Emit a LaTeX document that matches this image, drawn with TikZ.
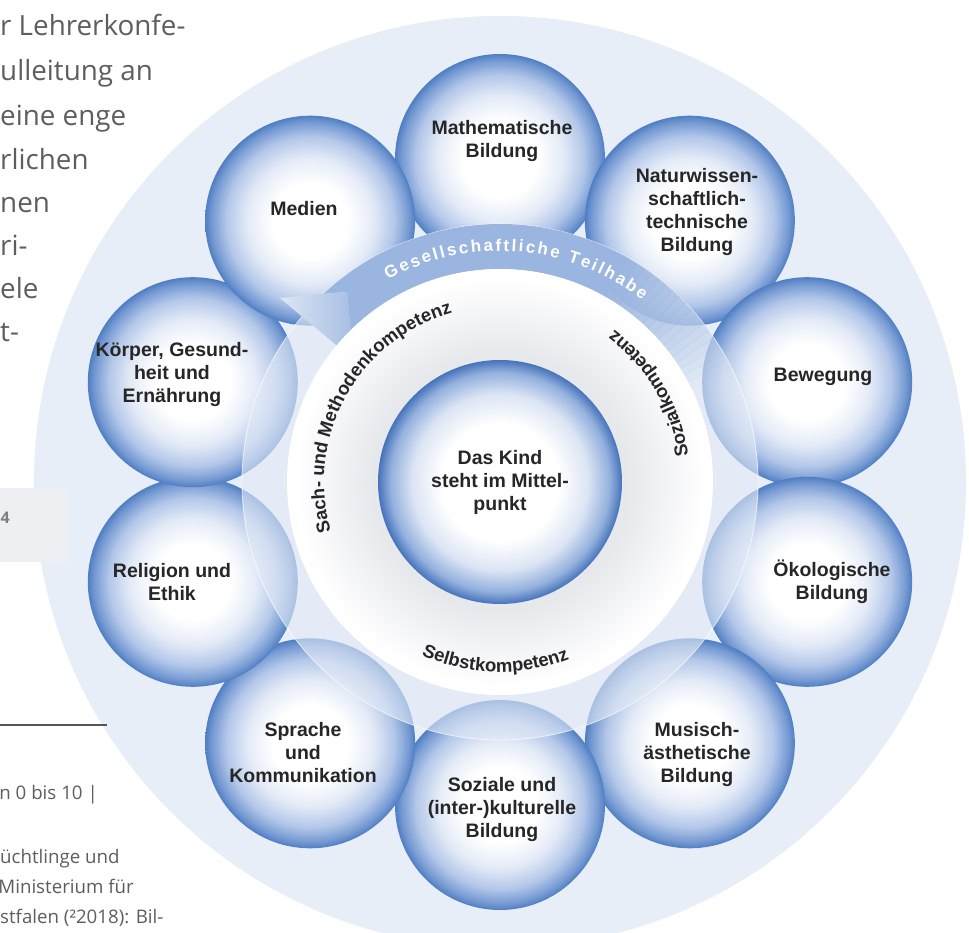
\documentclass[tikz,border=0pt]{standalone}
\usepackage{fontspec}
\setmainfont{Liberation Sans}
\newfontfamily\bodyfont{Open Sans}
\usetikzlibrary{decorations.text}
\definecolor{pale}{HTML}{E8EEF7}
\definecolor{boxc}{HTML}{EDEFF2}
\definecolor{bodyc}{HTML}{5E5E5E}
\definecolor{labelc}{HTML}{262626}
\definecolor{bubA}{HTML}{E4EBF7}
\definecolor{bubB}{HTML}{B3C7E9}
\definecolor{bubC}{HTML}{7499D2}
\definecolor{bubedge}{HTML}{4F7EC3}
\definecolor{ringc}{HTML}{E2EAF6}
\definecolor{tailc}{HTML}{9AB5DF}
\definecolor{headA}{HTML}{DCE6F5}
\definecolor{headB}{HTML}{A7BEE3}
\definecolor{wrA}{HTML}{E6E8EC}
\definecolor{wrB}{HTML}{F4F5F7}
\definecolor{inA}{HTML}{DCE5F4}
\definecolor{inB}{HTML}{93B0DD}
\definecolor{inedge}{HTML}{4673BB}
\pgfdeclareradialshading{bubble}{\pgfpoint{0bp}{0bp}}{color(0bp)=(white); color(9bp)=(white); color(15bp)=(bubA); color(20bp)=(bubB); color(23.5bp)=(bubC); color(25bp)=(bubedge); color(50bp)=(bubedge)}
\pgfdeclareradialshading{kernel}{\pgfpoint{0bp}{0bp}}{color(0bp)=(white); color(12bp)=(white); color(18bp)=(inA); color(22.5bp)=(inB); color(25bp)=(inedge); color(50bp)=(inedge)}
\pgfdeclareradialshading{wring}{\pgfpoint{0bp}{0bp}}{color(0bp)=(wrA); color(15bp)=(wrA); color(20bp)=(wrB); color(24bp)=(white); color(25bp)=(white); color(50bp)=(white)}
\newcommand\curvefont{\fontsize{18.5}{18.5}\selectfont\bfseries}
\newcommand\ringfont{\fontsize{17}{17}\selectfont\bfseries}
\tikzset{
  lbl/.style={font=\fontsize{19.5}{23}\selectfont\bfseries, text=labelc, align=center, inner sep=0pt},
  body/.style={font=\bodyfont\fontsize{27.8}{27.8}\selectfont, text=bodyc, inner sep=0pt, anchor=base west},
  smallbody/.style={font=\bodyfont\fontsize{18.7}{18.7}\selectfont, text=bodyc, inner sep=0pt}
}
\begin{document}
\begin{tikzpicture}[x=1pt,y=1pt]
\useasboundingbox (-500,-451) rectangle (469,482);
\begin{scope}
\clip (-500,-451) rectangle (469,482);
\fill[white] (-500,-451) rectangle (469,482);
% big pale disc
\fill[pale] (0,0) circle (466);
% grey box with page number
\fill[boxc] (-500,-6) rectangle (-432,-80);
\node[font=\bodyfont\fontsize{16}{16}\selectfont\bfseries, text=bodyc!80, inner sep=0pt, anchor=base east] (pg) at (-490,-42) {4};
% left body text
\node[body] (t1) at (-500,446) {r Lehrerkonfe-};
\node[body] (t2) at (-500,401) {ulleitung an};
\node[body] (t3) at (-500,356) {eine enge};
\node[body] (t4) at (-500,312) {rlichen};
\node[body] (t5) at (-500,269) {nen};
\node[body] (t6) at (-500,226) {ri-};
\node[body] (t7) at (-500,183) {ele};
\node[body] (t8) at (-500,140) {t-};
\coordinate (l1) at (-500,-243);
\coordinate (l2) at (-393,-243);
\draw[bodyc!90!black, line width=1.2pt] (l1) -- (l2);
\node[smallbody, anchor=base east] (s1) at (-402,-318) {n 0 bis 10 |};
\node[smallbody, anchor=base west] (s2) at (-500,-381) {üchtlinge und};
\node[smallbody, anchor=base east] (s3) at (-366,-411) {Ministerium für};
\node[smallbody, anchor=base west] (s4) at (-500,-441) {stfalen (²2018): Bil-};
% bubbles
\foreach \ang in {90,54,18,-18,-54,-90,-126,-162,162,126}{
  \shade[shading=bubble] (\ang:323) circle (105);
}
% translucent ring
\fill[ringc, fill opacity=0.62] (0,0) circle (258);
\draw[white, opacity=0.7, line width=0.8pt] (0,0) circle (258);
% dark tail of the arrow
\fill[tailc] (133.2:258) -- (128.8:244) -- (134.6:213) arc[start angle=134.6, end angle=60, radius=213] -- (60:258) arc[start angle=60, end angle=133.2, radius=258] -- cycle;
\foreach \a in {60,58,...,28}{
  \pgfmathsetmacro\op{(\a-26)/36}
  \fill[tailc, fill opacity=\op] (\a:213) arc[start angle=\a, end angle=\a-2.1, radius=213] -- (\a-2.1:258) arc[start angle=\a-2.1, end angle=\a, radius=258] -- cycle;
}
% arrow head
\shade[left color=headA, right color=headB] (128.8:244) -- (140.1:287) -- (140.1:191.5) -- cycle;
% white ring
\shade[shading=wring] (0,0) circle (213);
% core
\shade[shading=kernel] (0,0) circle (122);
% curved texts
\path[decorate, decoration={text along path, text align=center, text={|\curvefont\color{labelc}|Sach- und Methodenkompetenz}}] (203:176) arc[start angle=203, end angle=99, radius=176];
\path[decorate, decoration={text along path, text align=center, text={|\curvefont\color{labelc}|Sozialkompetenz}}] (-15:190) arc[start angle=-15, end angle=76, radius=190];
\path[decorate, decoration={text along path, text align=center, text={|\curvefont\color{labelc}|Selbstkompetenz}}] (-140:190) arc[start angle=-140, end angle=-43, radius=190];
\path[decorate, decoration={text along path, text align={fit to path}, text={|\ringfont\color{white}|Gesellschaftliche Teilhabe}}] (119:231) arc[start angle=119, end angle=52, radius=231];
% labels
\node[lbl] (kind) at (0,0) {Das Kind\\steht im Mittel-\\punkt};
\node[lbl] (math) at (2,341) {Mathematische\\Bildung};
\node[lbl] (natur) at (197,270) {Naturwissen-\\schaftlich-\\technische\\Bildung};
\node[lbl] (beweg) at (323,105) {Bewegung};
\node[lbl] (oeko) at (332,-100) {Ökologische\\Bildung};
\node[lbl] (musik) at (197,-273) {Musisch-\\ästhetische\\Bildung};
\node[lbl] (sozial) at (2,-328) {Soziale und\\(inter-)kulturelle\\Bildung};
\node[lbl] (sprache) at (-197,-271) {Sprache\\und\\Kommunikation};
\node[lbl] (relig) at (-328,-100) {Religion und\\Ethik};
\node[lbl] (koerper) at (-328,107) {Körper, Gesund-\\heit und\\Ernährung};
\node[lbl] (medien) at (-196,273) {Medien};
\end{scope}
\end{tikzpicture}
\end{document}
